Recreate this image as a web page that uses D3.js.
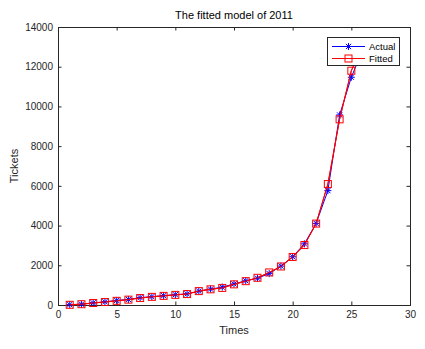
<!DOCTYPE html>
<html><head><meta charset="utf-8">
<script src="https://cdn.jsdelivr.net/npm/d3@7/dist/d3.min.js"></script>
<style>body{margin:0;background:#fff}svg{display:block}text{font-family:"Liberation Sans",Arial,sans-serif}</style>
</head><body><svg id="c" width="425" height="349"></svg>
<script>
const times = [1,2,3,4,5,6,7,8,9,10,11,12,13,14,15,16,17,18,19,20,21,22,23,24,25,26];
const actual = [20,40,110,160,230,280,370,420,470,520,560,700,800,900,1060,1220,1350,1580,1960,2430,3080,4110,5760,9570,11470,12900];
const fitted = [10,40,100,150,210,270,350,410,460,510,550,700,790,860,1040,1200,1370,1640,1940,2420,3020,4100,6090,9350,11800,13100];
const xTicks = [0,5,10,15,20,25,30];
const yTicks = [0,2000,4000,6000,8000,10000,12000,14000];
const seriesNames = ["Actual","Fitted"];
const seriesColors = ["#0000ff","#ff0000"];

const svg = d3.select("#c");
const L=58, R=410, T=27, B=305;
const x = d3.scaleLinear().domain([0,30]).range([L,R]);
const y = d3.scaleLinear().domain([0,14000]).range([B,T]);
const axisCol = "#262626";

// axes
const gx = svg.append("g").attr("transform",`translate(0,${B})`)
  .call(d3.axisBottom(x).tickValues(xTicks).tickSize(-3.5).tickPadding(6).tickFormat(d3.format("d")));
const gy = svg.append("g").attr("transform",`translate(${L},0)`)
  .call(d3.axisLeft(y).tickValues(yTicks).tickSize(-3.5).tickPadding(5).tickFormat(d3.format("d")));
const gxt = svg.append("g").attr("transform",`translate(0,${T})`)
  .call(d3.axisTop(x).tickValues(xTicks).tickSize(-3.5).tickFormat(""));
const gyr = svg.append("g").attr("transform",`translate(${R},0)`)
  .call(d3.axisRight(y).tickValues(yTicks).tickSize(-3.5).tickFormat(""));
[gx,gy,gxt,gyr].forEach(g=>{
  g.selectAll("path").attr("stroke",axisCol).attr("stroke-width",1);
  g.selectAll("line").attr("stroke",axisCol);
  g.selectAll("text").attr("fill",axisCol).attr("font-size",10).attr("font-family","Liberation Sans, Arial, sans-serif");
});

// lines
const line = d3.line().x((d,i)=>x(times[i])).y(d=>y(d));
const data = [actual, fitted];
data.forEach((vals,k)=>{
  svg.append("path").datum(vals).attr("d",line).attr("fill","none")
    .attr("stroke",seriesColors[k]).attr("stroke-width",1);
});
function star(g,cx,cy,c){
  const r=3.5, r2=2.6;
  const p = `M${cx-r},${cy}L${cx+r},${cy}M${cx},${cy-r}L${cx},${cy+r}M${cx-r2},${cy-r2}L${cx+r2},${cy+r2}M${cx-r2},${cy+r2}L${cx+r2},${cy-r2}`;
  g.append("path").attr("d",p).attr("stroke",c).attr("stroke-width",1).attr("fill","none");
}
function sq(g,cx,cy,c){
  g.append("rect").attr("x",cx-3.5).attr("y",cy-3.5).attr("width",7).attr("height",7)
    .attr("fill","none").attr("stroke",c).attr("stroke-width",1);
}
const gm = svg.append("g");
actual.forEach((v,i)=>star(gm,x(times[i]),y(v),seriesColors[0]));
// fitted line drawn after actual markers so red on top
svg.append("path").datum(fitted).attr("d",line).attr("fill","none").attr("stroke",seriesColors[1]).attr("stroke-width",1);
const gm2 = svg.append("g");
fitted.forEach((v,i)=>sq(gm2,x(times[i]),y(v),seriesColors[1]));

// title & labels
svg.append("text").attr("x",(L+R)/2).attr("y",19).attr("text-anchor","middle")
  .attr("font-size",11).attr("fill","#000").text("The fitted model of 2011");
svg.append("text").attr("x",(L+R)/2).attr("y",334).attr("text-anchor","middle")
  .attr("font-size",11).attr("fill",axisCol).text("Times");
svg.append("text").attr("transform",`translate(18,${(T+B)/2}) rotate(-90)`).attr("text-anchor","middle")
  .attr("font-size",11).attr("fill",axisCol).text("Tickets");

// legend
const lg = svg.append("g");
lg.append("rect").attr("x",327.5).attr("y",37.5).attr("width",72).attr("height",28)
  .attr("fill","#fff").attr("stroke",axisCol).attr("stroke-width",1);
seriesNames.forEach((n,k)=>{
  const yy = 46.5 + k*12;
  lg.append("line").attr("x1",332).attr("x2",365).attr("y1",yy).attr("y2",yy)
    .attr("stroke",seriesColors[k]).attr("stroke-width",1);
  if(k===0) star(lg,348.5,yy,seriesColors[k]); else sq(lg,348.5,yy,seriesColors[k]);
  lg.append("text").attr("x",369).attr("y",yy+3.5).attr("font-size",9.5).attr("fill","#000").text(n);
});
</script></body></html>
